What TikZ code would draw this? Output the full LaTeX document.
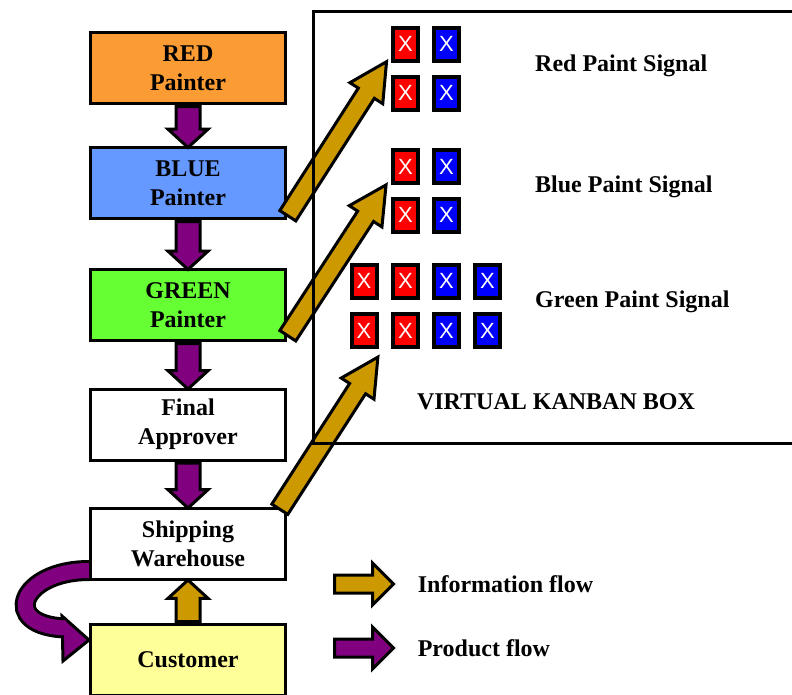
\documentclass[tikz,border=0pt]{standalone}
\usepackage{fontspec}
\setmainfont{Liberation Serif}
\newfontfamily\cardfont{Liberation Sans}
\usetikzlibrary{shapes.arrows,positioning,calc}

\definecolor{redpainter}{RGB}{251,155,51}
\definecolor{bluepainter}{RGB}{102,153,255}
\definecolor{greenpainter}{RGB}{102,255,51}
\definecolor{customeryellow}{RGB}{255,255,153}
\definecolor{infogold}{RGB}{204,153,0}
\definecolor{productpurple}{RGB}{128,0,128}
\definecolor{cardred}{RGB}{255,0,0}
\definecolor{cardblue}{RGB}{0,0,255}

\begin{document}
\begin{tikzpicture}
    [
    x=1pt,y=1pt,
    stage/.style={rectangle,draw,line width=3pt,minimum width=195pt,minimum height=71pt,align=center,font=\fontsize{24}{29}\selectfont\bfseries},
    flow/.style={single arrow,draw,line width=3pt,inner xsep=0pt,inner ysep=10.5pt,pos=0,anchor=tail,sloped,allow upside down,single arrow head extend=8pt,single arrow tip angle=95},
    product/.style={flow,fill=productpurple},
    info/.style={flow,fill=infogold},
    signalinfo/.style={info,inner ysep=8pt,single arrow head extend=10pt,single arrow tip angle=55},
    flowkey/.style={single arrow,draw,line width=3pt,anchor=tail,inner xsep=0pt,inner ysep=7.5pt,single arrow head extend=12pt,minimum height=59pt,single arrow tip angle=90},
    card/.style={rectangle,draw,line width=4pt,inner sep=0pt,minimum width=25pt,minimum height=33pt,text=white,font=\cardfont\fontsize{22}{22}\selectfont},
    caption/.style={inner sep=0pt,font=\fontsize{24}{29}\selectfont\bfseries}
    ]
    \useasboundingbox (0,0) rectangle (792,-694);

    % the painting line
    \node (red) at (188,-68) [stage, fill=redpainter] {RED\\Painter};
    \node (blue) at (188,-183) [stage, fill=bluepainter] {BLUE\\Painter};
    \node (green) at (188,-305) [stage, fill=greenpainter] {GREEN\\Painter};
    \node (final) at (188,-424.5) [stage, fill=white] {Final\\Approver};
    \node (ship) at (188,-543.5) [stage, fill=white] {Shipping\\Warehouse};
    \node (cust) at (188,-660) [stage, fill=customeryellow] {Customer};

    % product flow
    \path (red.south) -- (blue.north) node [product, minimum height=41pt] {};
    \path (blue.south) -- (green.north) node [product, minimum height=48pt] {};
    \path (green.south) -- (final.north) node [product, minimum height=45.5pt] {};
    \path (final.south) -- (ship.north) node [product, minimum height=45pt] {};
    \path (cust.north) -- (ship.south) node [info, minimum height=41.5pt] {};

    \coordinate (loopstart) at ([yshift=-27pt]ship.west);
    \coordinate (looptip) at ([yshift=20pt]cust.west);
    \coordinate (loopend) at ($(looptip)+(-23,12)$);
    \draw [line width=21pt] (loopstart) .. controls +(-69,0) and +(-67,2) .. (loopend);
    \filldraw [fill=productpurple, line width=3pt] ($(looptip)+(-27,24)$) -- (looptip) -- ($(looptip)+(-26,-21)$) -- cycle;
    \draw [productpurple, line width=15pt] (loopstart) .. controls +(-69,0) and +(-67,2) .. (loopend);

    % kanban cards
    \foreach \row/\y in {1/44,2/93} {
      \node (rs-r\row) at (405.5,-\y) [card, fill=cardred] {X};
      \node (rs-b\row) at (446.5,-\y) [card, fill=cardblue] {X};
    }
    \foreach \row/\y in {1/166.5,2/215} {
      \node (bs-r\row) at (405.5,-\y) [card, fill=cardred] {X};
      \node (bs-b\row) at (446.5,-\y) [card, fill=cardblue] {X};
    }
    \foreach \row/\y in {1/281,2/330.5} {
      \foreach \col/\x/\c in {1/364/cardred,2/405.5/cardred,3/446.5/cardblue,4/487.5/cardblue}
        \node (gs-\row-\col) at (\x,-\y) [card, fill=\c] {X};
    }

    % information flow to the cards
    \coordinate (redtip) at ([xshift=-5pt]rs-r1.south west);
    \coordinate (bluetip) at ([xshift=-5pt]bs-r1.south west);
    \coordinate (greentip) at ([shift={(-14,-9.5)}]gs-2-2.south west);
    \path ([yshift=3pt]blue.south east) -- (redtip) node [signalinfo, minimum height=183pt] {};
    \path ([yshift=5pt]green.south east) -- (bluetip) node [signalinfo, minimum height=180pt] {};
    \path ([shift={(-8,-4)}]ship.north east) -- (greentip) node [signalinfo, minimum height=181pt] {};

    \node (redsig) at (535,-66) [caption, anchor=west] {Red Paint Signal};
    \node (bluesig) at (535,-187) [caption, anchor=west] {Blue Paint Signal};
    \node (greensig) at (535,-302) [caption, anchor=west] {Green Paint Signal};
    \node (kanbantext) at (556,-402) [caption] {VIRTUAL KANBAN BOX};
    \node (kanban) at (557,-227.5) [draw, line width=3pt, minimum width=487pt, minimum height=432pt] {};

    % legend
    \node (infokey) at (333,-584) [flowkey, fill=infogold] {};
    \node (productkey) at (333,-648) [flowkey, fill=productpurple] {};
    \node (infotext) [caption, right=22pt of infokey] {Information flow};
    \node (producttext) [caption, right=22pt of productkey] {Product flow};
\end{tikzpicture}
\end{document}
